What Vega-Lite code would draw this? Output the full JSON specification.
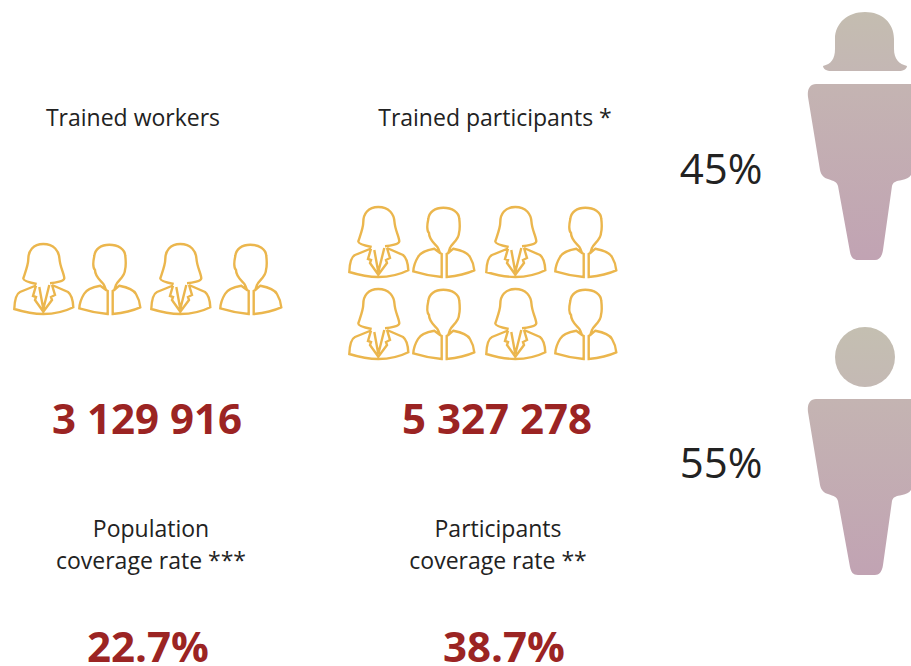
{
"$schema":"https://vega.github.io/schema/vega-lite/v6.json",
"width":911,"height":666,"padding":0,
"autosize":{"type":"fit","contains":"padding"},
"background":"white",
"view":{"stroke":null},
"config":{"axis":{"domain":false,"ticks":false,"labels":false,"grid":false,"title":null}},
"datasets":{
"texts":[
{"kind":"label","x":133,"y":119,"t":"Trained workers"},
{"kind":"label","x":495,"y":119,"t":"Trained participants *"},
{"kind":"label","x":151,"y":530,"t":"Population"},
{"kind":"label","x":151,"y":562,"t":"coverage rate ***"},
{"kind":"label","x":498,"y":530,"t":"Participants"},
{"kind":"label","x":498,"y":562,"t":"coverage rate **"},
{"kind":"share","x":721,"y":171,"t":"45%"},
{"kind":"share","x":721,"y":465,"t":"55%"},
{"kind":"figure","x":147,"y":421,"t":"3 129 916"},
{"kind":"figure","x":497,"y":421,"t":"5 327 278"},
{"kind":"figure","x":148,"y":649,"t":"22.7%"},
{"kind":"figure","x":504,"y":649,"t":"38.7%"}
],
"icons":[
{"kind":"woman","x":44,"y":279},{"kind":"man","x":110,"y":279},{"kind":"woman","x":181,"y":279},{"kind":"man","x":251,"y":279},
{"kind":"woman","x":379,"y":242},{"kind":"man","x":444,"y":242},{"kind":"woman","x":516,"y":242},{"kind":"man","x":586,"y":242},
{"kind":"woman","x":379,"y":324},{"kind":"man","x":444,"y":324},{"kind":"woman","x":516,"y":324},{"kind":"man","x":586,"y":324}
],
"people":[
{"part":"femaleHead","x":865,"y":41},
{"part":"maleHead","x":865,"y":357},
{"part":"body","x":866,"y":172},
{"part":"body","x":866,"y":487}
]},
"encoding":{
"x":{"field":"x","type":"quantitative","scale":{"domain":[0,911],"range":[0,911],"nice":false,"zero":false},"axis":null},
"y":{"field":"y","type":"quantitative","scale":{"domain":[0,666],"range":[0,666],"nice":false,"zero":false},"axis":null}
},
"layer":[
{"data":{"name":"people"},"transform":[{"filter":"datum.part==='body'"}],
 "mark":{"type":"point","filled":true,"size":4,"strokeWidth":0,"opacity":1,
 "fill":{"x1":0,"y1":0,"x2":0,"y2":1,"gradient":"linear","stops":[{"offset":0,"color":"#c4b4b2"},{"offset":1,"color":"#c1a3b3"}]},
 "shape":"M-50-88L45-88L45 3C43 6 40 7 36 8C30 9 27 10 26 14L17 78C16 85 13 88 9 88L-8 88C-13 88-15 85-16 80L-28 14C-29 10-32 9-38 7C-42 6-45 3-46-2L-58-75C-59-83-56-88-50-88Z"}},
{"data":{"name":"people"},"transform":[{"filter":"datum.part==='femaleHead'"}],
 "mark":{"type":"point","filled":true,"size":4,"strokeWidth":0,"opacity":1,
 "fill":{"x1":0,"y1":0,"x2":0,"y2":1,"gradient":"linear","stops":[{"offset":0,"color":"#c4bdb0"},{"offset":1,"color":"#c4b7b4"}]},
 "shape":"M-30-2C-30-18-17-29 0-29C17-29 29-18 29-2L29 8C29 18 34 23 42 25C42 28 38 30 34 30L-34 30C-38 30-42 28-42 25C-34 23-30 18-30 8Z"}},
{"data":{"name":"people"},"transform":[{"filter":"datum.part==='maleHead'"}],
 "mark":{"type":"point","filled":true,"size":3600,"strokeWidth":0,"shape":"circle","opacity":1,
 "fill":{"x1":0,"y1":0,"x2":0,"y2":1,"gradient":"linear","stops":[{"offset":0,"color":"#c4bfb1"},{"offset":1,"color":"#c4b9b4"}]}}},
{"data":{"name":"icons"},"transform":[{"filter":"datum.kind==='woman'"}],
 "mark":{"type":"point","filled":false,"size":4,"stroke":"#ebb64d","strokeWidth":2.4,"opacity":1,
 "shape":"M-7.3 5C-12 4-21 2-20.7-0.7C-19-6-15.7-14-15.7-20C-15.7-28-11-35-0.7-35C10-35 15-28 15.5-20C16-12 20-6 20.3-0.7C20 2 12 4 6 4.3M-8 6.5L-24 13C-28 15-29.5 24-29.7 30C-20 33-10 35-0.7 35C10 35 20 33 29.3 28.3C29 22 28 16 24 13L8 6M-8 6.7L-11 17L-8 18L-9 21L-0.7 32.7L8 21L7 18L11 16L8 6M-4.7 8L-0.7 30L5.3 6"}},
{"data":{"name":"icons"},"transform":[{"filter":"datum.kind==='man'"}],
 "mark":{"type":"point","filled":false,"size":4,"stroke":"#ebb64d","strokeWidth":2.4,"opacity":1,
 "shape":"M-4 11L-6 6C-7 3-15 -1-15-9C-17-11-17-17-15.7-23C-15-30-9-34.3-0.7-34.3C8-34.3 15-30 15.3-23C16-17 16-13 15-9C15-2 7 2 6 6L4.3 11M-9.7 6.7C-17 8-24 11-26 15C-29 20-30.5 25-30.7 29.3C-22 32-12 34-2.3 35L-2.3 12L-4 11ZM9.3 6.7C16 8 24 11 26 15C29 20 30 25 30.3 28.3C22 32 12 34 2.7 35L2.7 12L4.3 11Z"}},
{"data":{"name":"texts"},"transform":[{"filter":"datum.kind==='label'"}],
 "mark":{"type":"text","font":"Open Sans","fontSize":23,"color":"#222222","align":"center","baseline":"middle"},
 "encoding":{"text":{"field":"t","type":"nominal"}}},
{"data":{"name":"texts"},"transform":[{"filter":"datum.kind==='share'"}],
 "mark":{"type":"text","font":"Open Sans","fontSize":42,"color":"#222222","align":"center","baseline":"middle"},
 "encoding":{"text":{"field":"t","type":"nominal"}}},
{"data":{"name":"texts"},"transform":[{"filter":"datum.kind==='figure'"}],
 "mark":{"type":"text","font":"Open Sans","fontWeight":"bold","fontSize":42,"color":"#9b2423","align":"center","baseline":"middle"},
 "encoding":{"text":{"field":"t","type":"nominal"}}}
]
}
